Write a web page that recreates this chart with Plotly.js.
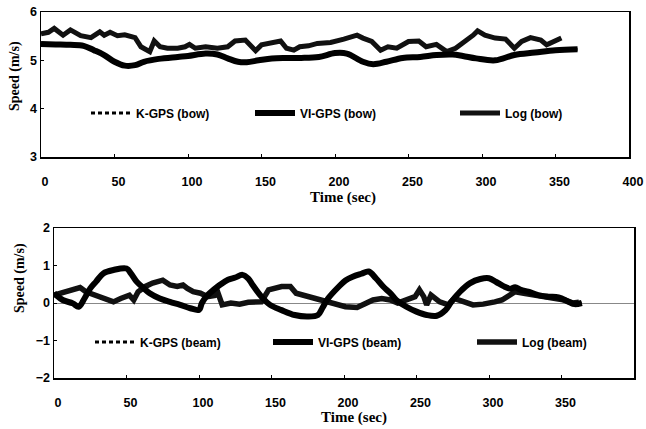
<!DOCTYPE html>
<html><head><meta charset="utf-8">
<script src="https://cdn.plot.ly/plotly-3.0.1.min.js"></script>
<style>html,body{margin:0;padding:0;background:#fff}</style>
</head><body><div id="chart" style="width:646px;height:429px"></div>
<script>
// ---- Top panel (bow) ----
const logBowX = [0,5,9,15,20,27,34,40,43,47,52,57,64,68,74,77,81,86,93,98,101,105,112,120,127,132,139,143,146,150,157,163,167,172,176,182,188,197,206,215,219,225,231,236,242,250,257,262,269,276,282,287,294,297,302,309,316,322,327,333,340,344,350,354];
const logBowY = [5.55,5.58,5.66,5.52,5.63,5.51,5.47,5.59,5.52,5.58,5.51,5.53,5.47,5.28,5.18,5.40,5.28,5.25,5.25,5.28,5.33,5.25,5.28,5.25,5.28,5.40,5.42,5.28,5.20,5.32,5.35,5.40,5.25,5.21,5.28,5.30,5.35,5.37,5.44,5.52,5.46,5.39,5.21,5.28,5.25,5.39,5.40,5.28,5.33,5.18,5.25,5.35,5.52,5.61,5.52,5.46,5.44,5.25,5.39,5.47,5.42,5.32,5.40,5.46];
const viBowX = [0,10,20,29,36,43,50,57,64,70,80,93,100,112,120,127,134,140,148,157,166,177,189,200,208,219,226,235,246,258,269,280,287,296,309,322,336,350,365];
const viBowY = [5.34,5.33,5.32,5.30,5.21,5.11,4.97,4.89,4.90,4.97,5.03,5.07,5.09,5.14,5.12,5.04,4.97,4.96,5.00,5.04,5.05,5.05,5.07,5.15,5.14,4.97,4.92,4.97,5.05,5.07,5.11,5.12,5.09,5.04,5.00,5.11,5.16,5.21,5.23];
// K-GPS coincides with VI-GPS (hidden beneath it in the reference)
const kBowX = viBowX;
const kBowY = viBowY;

// ---- Bottom panel (beam) ----
const viBeamX = [0,6,13,17,21,25,29,34,41,50,53,57,62,66,73,80,87,94,100,102,105,110,115,120,125,130,134,137,143,149,157,166,175,182,185,189,196,201,206,212,217,222,227,232,236,243,250,257,264,270,274,280,287,294,300,305,310,315,318,322,327,334,341,348,355,359,364];
const viBeamY = [0.26,0.08,-0.01,-0.10,0.12,0.39,0.57,0.79,0.88,0.92,0.79,0.57,0.39,0.26,0.12,0.03,-0.05,-0.14,-0.18,0.0,0.17,0.35,0.50,0.62,0.68,0.75,0.65,0.48,0.17,-0.05,-0.19,-0.32,-0.36,-0.32,-0.14,0.12,0.42,0.60,0.70,0.78,0.84,0.66,0.44,0.26,0.08,-0.10,-0.23,-0.32,-0.34,-0.19,0.03,0.30,0.53,0.64,0.66,0.56,0.45,0.38,0.42,0.35,0.30,0.21,0.17,0.15,0.03,-0.03,0.0];
const logBeamX = [0,6,11,18,22,29,36,41,46,52,55,58,63,68,75,80,85,89,92,96,101,106,111,113,116,122,128,134,143,148,157,163,167,175,185,194,201,209,215,220,226,232,237,243,249,252,255,257,260,266,272,276,282,289,296,301,304,309,314,318,325,335,345,352,358,362];
const logBeamY = [0.21,0.28,0.35,0.41,0.30,0.21,0.12,0.03,0.12,0.21,0.08,0.30,0.44,0.53,0.61,0.48,0.44,0.48,0.39,0.30,0.26,0.17,0.20,0.28,-0.05,0.0,-0.03,0.02,0.03,0.35,0.44,0.44,0.26,0.17,0.08,-0.05,-0.10,-0.12,-0.02,0.08,0.12,0.08,0.0,0.08,0.17,0.35,0.17,-0.05,0.21,0.03,-0.05,0.12,0.03,-0.05,-0.03,0.03,0.03,0.08,0.21,0.30,0.25,0.18,0.12,0.08,0.0,0.02];
const kBeamX = viBeamX;
const kBeamY = viBeamY;

const xTicks = [0,50,100,150,200,250,300,350,400];
const yTicksBow = [3,4,5,6];
const yTicksBeam = [-2,-1,0,1,2];

const W = 646, H = 429;
const px = v => v / W;
const py = v => 1 - v / H;

const traces = [
  {x:kBowX, y:kBowY, name:'K-GPS (bow)', mode:'lines', xaxis:'x', yaxis:'y', legend:'legend',
   line:{color:'#000', width:3, dash:'4px,3px'}},
  {x:logBowX, y:logBowY, name:'Log (bow)', mode:'lines', xaxis:'x', yaxis:'y', legend:'legend3',
   line:{color:'#111', width:5}},
  {x:viBowX, y:viBowY, name:'VI-GPS (bow)', mode:'lines', xaxis:'x', yaxis:'y', legend:'legend2',
   line:{color:'#000', width:6, shape:'spline'}},
  {x:kBeamX, y:kBeamY, name:'K-GPS (beam)', mode:'lines', xaxis:'x2', yaxis:'y2', legend:'legend4',
   line:{color:'#000', width:3, dash:'4px,3px'}},
  {x:logBeamX, y:logBeamY, name:'Log (beam)', mode:'lines', xaxis:'x2', yaxis:'y2', legend:'legend6',
   line:{color:'#111', width:5.5}},
  {x:viBeamX, y:viBeamY, name:'VI-GPS (beam)', mode:'lines', xaxis:'x2', yaxis:'y2', legend:'legend5',
   line:{color:'#000', width:6, shape:'spline'}}
];

const tickFont = {family:'Liberation Sans, Arial, sans-serif', size:12.5, color:'#000', weight:'bold'};
const titleFontX = {family:'Liberation Serif, Times New Roman, serif', size:15, color:'#000', weight:'bold'};
const titleFontY = {family:'Liberation Serif, Times New Roman, serif', size:14, color:'#000', weight:'bold'};
const legFont = {family:'Liberation Sans, Arial, sans-serif', size:12, color:'#000', weight:'bold'};

function xax(domain){
  return {domain:domain, range:[0,400], tickvals:xTicks, ticks:'inside', ticklen:3, tickcolor:'#000',
    showline:true, mirror:true, linecolor:'#000', linewidth:1.5, showgrid:false, zeroline:false,
    tickfont:tickFont, ticklabelstandoff:12, ticklabelshift:4, automargin:false};
}
function yax(domain, range, vals, zl){
  return {domain:domain, range:range, tickvals:vals, ticks:'inside', ticklen:3, tickcolor:'#000',
    showline:true, mirror:true, linecolor:'#000', linewidth:1.5, showgrid:false,
    zeroline:zl, zerolinecolor:'#888', zerolinewidth:1,
    tickfont:tickFont, automargin:false};
}
function leg(x, y){
  return {x:x, y:y, xanchor:'left', yanchor:'middle', orientation:'h', bgcolor:'rgba(0,0,0,0)',
    borderwidth:0, font:legFont, itemwidth:40};
}

const layout = {
  width:W, height:H, margin:{l:0,r:0,t:0,b:0}, paper_bgcolor:'#fff', plot_bgcolor:'#fff',
  showlegend:true,
  xaxis: Object.assign(xax([px(41), px(629)]), {anchor:'y'}),
  yaxis: Object.assign(yax([py(157), py(12)], [3,6], yTicksBow, false), {anchor:'x'}),
  xaxis2: Object.assign(xax([px(54), px(634)]), {anchor:'y2'}),
  yaxis2: Object.assign(yax([py(378), py(228)], [-2,2], yTicksBeam, true), {anchor:'x2'}),
  legend: leg(px(86), py(113)),
  legend2: leg(px(250), py(113)),
  legend3: leg(px(455), py(113)),
  legend4: leg(px(90), py(342)),
  legend5: leg(px(268), py(342)),
  legend6: leg(px(472), py(342)),
  annotations: [
    {text:'Speed (m/s)', xref:'paper', yref:'paper', x:px(15), y:py(76), textangle:-90,
     showarrow:false, font:titleFontY, xanchor:'center', yanchor:'middle'},
    {text:'Time (sec)', xref:'paper', yref:'paper', x:px(343), y:py(197),
     showarrow:false, font:titleFontX, xanchor:'center', yanchor:'middle'},
    {text:'Speed (m/s)', xref:'paper', yref:'paper', x:px(20), y:py(278), textangle:-90,
     showarrow:false, font:titleFontY, xanchor:'center', yanchor:'middle'},
    {text:'Time (sec)', xref:'paper', yref:'paper', x:px(354), y:py(417),
     showarrow:false, font:titleFontX, xanchor:'center', yanchor:'middle'}
  ]
};

Plotly.newPlot('chart', traces, layout, {displayModeBar:false, staticPlot:true});
</script></body></html>
